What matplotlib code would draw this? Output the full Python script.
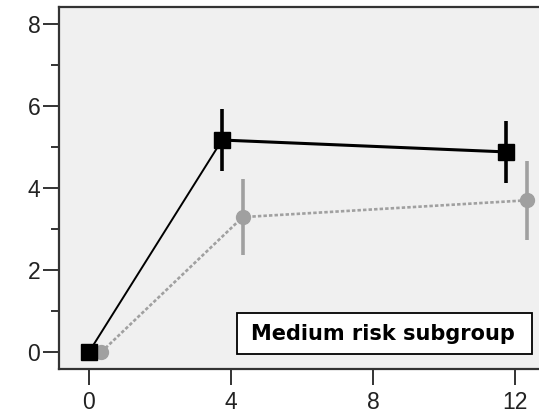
import matplotlib
matplotlib.use("Agg")
import matplotlib.pyplot as plt
from matplotlib.patches import Rectangle
from matplotlib.ticker import MultipleLocator

# time points (weeks) and group means with error half-widths
black_x = [0.0, 3.75, 11.75]
black_y = [0.0, 5.17, 4.88]
black_err = [0.0, 0.76, 0.75]

gray_x = [0.35, 4.33, 12.35]
gray_y = [0.0, 3.29, 3.7]
gray_err = [0.0, 0.92, 0.97]

xticks = [0, 4, 8, 12]
yticks = [0, 2, 4, 6, 8]
label = "Medium risk subgroup"

GRAY = "#a0a0a0"
W, H = 539, 412

fig = plt.figure(figsize=(W / 100, H / 100), dpi=100)
ax = fig.add_axes([59 / W, 1 - 369 / H, 486 / W, 362 / H])
ax.set_facecolor("#f0f0f0")

# gray series (dotted)
ax.plot(gray_x, gray_y, color=GRAY, lw=1.9, ls=(0, (1.3, 0.8)), zorder=2)
ax.errorbar(gray_x[1:], gray_y[1:], yerr=gray_err[1:], fmt="none",
            ecolor=GRAY, elinewidth=2.6, capsize=0, zorder=3)
ax.plot(gray_x, gray_y, ls="none", marker="o", ms=10, color=GRAY, zorder=4)

# black series: thin first segment, heavier afterwards
ax.plot(black_x[:2], black_y[:2], color="black", lw=1.4, zorder=5)
ax.plot(black_x[1:], black_y[1:], color="black", lw=2.2, zorder=5)
ax.errorbar(black_x[1:], black_y[1:], yerr=black_err[1:], fmt="none",
            ecolor="black", elinewidth=2.6, capsize=0, zorder=6)
ax.plot(black_x, black_y, ls="none", marker="s", ms=11, color="black", zorder=7)

ax.set_xlim(-0.845, 12.85)
ax.set_ylim(-0.415, 8.415)
ax.set_xticks(xticks)
ax.set_yticks(yticks)
ax.yaxis.set_minor_locator(MultipleLocator(1))
for s in ["left", "bottom", "top"]:
    ax.spines[s].set_color("#333333")
    ax.spines[s].set_linewidth(1.6)
ax.spines["right"].set_visible(False)
ax.tick_params(axis="both", which="major", length=11.5, width=1.4,
               color="#333333", labelsize=16.5)
ax.tick_params(axis="y", which="minor", length=5.5, width=1.4, color="#333333")
ax.tick_params(axis="x", pad=4)
ax.tick_params(axis="y", pad=2)
for t in ax.get_xticklabels() + ax.get_yticklabels():
    t.set_fontfamily("Liberation Sans")
    t.set_color("#222222")

# label box
fig.patches.append(Rectangle((237 / W, 1 - 354 / H), 295 / W, 41 / H,
                             transform=fig.transFigure, facecolor="white",
                             edgecolor="black", lw=1.3, zorder=10))
fig.text(383 / W, 1 - 334 / H, label, ha="center", va="center",
         fontsize=15, fontweight="bold", family="DejaVu Sans", zorder=11)

fig.savefig("out.png", dpi=100)
